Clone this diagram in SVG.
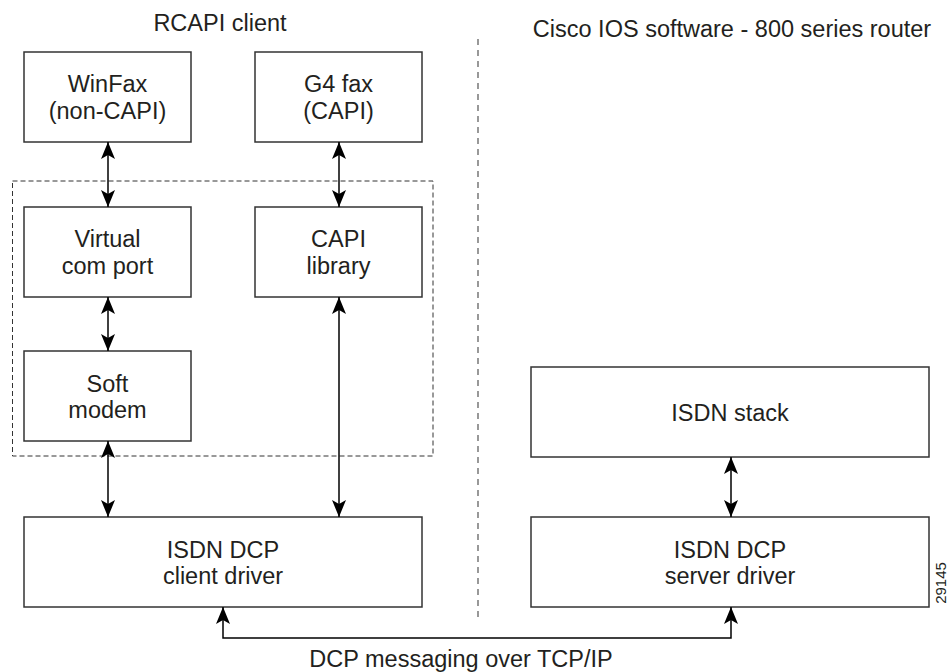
<svg xmlns="http://www.w3.org/2000/svg" width="949" height="672" viewBox="0 0 949 672">
<style>
text{font-family:"Liberation Sans",Arial,Helvetica,sans-serif;font-size:23.5px;fill:#231f20;text-anchor:middle}
.box{fill:#fff;stroke:#333;stroke-width:1.5}
.con{fill:none;stroke:#000;stroke-width:1.5}
.dash{fill:none;stroke:#333;stroke-width:1;stroke-dasharray:5 3}
.div{fill:none;stroke:#555;stroke-width:1.2;stroke-dasharray:6 5}
</style>
<defs>
<marker id="ah" viewBox="0 0 17 14" refX="17" refY="7" markerWidth="17" markerHeight="14" markerUnits="userSpaceOnUse" orient="auto-start-reverse">
<path d="M17,7 L0,0 L4,7 L0,14 Z" fill="#000"/>
</marker>
</defs>
<rect width="949" height="672" fill="#fff"/>
<text x="220" y="31">RCAPI client</text>
<text x="732" y="37">Cisco IOS software - 800 series router</text>
<line class="div" x1="478" y1="39" x2="478" y2="620"/>
<rect class="dash" x="12.5" y="181" width="420.5" height="275"/>
<g id="winfax"><rect class="box" x="24" y="52" width="167" height="90"/><text x="107.5" y="92">WinFax</text><text x="107.5" y="118.5">(non-CAPI)</text></g>
<g id="g4fax"><rect class="box" x="255" y="52" width="167" height="90"/><text x="338.5" y="92">G4 fax</text><text x="338.5" y="118.5">(CAPI)</text></g>
<g id="vcom"><rect class="box" x="24" y="207" width="167" height="90"/><text x="107.5" y="247">Virtual</text><text x="107.5" y="274">com port</text></g>
<g id="capilib"><rect class="box" x="255" y="207" width="167" height="90"/><text x="338.5" y="247">CAPI</text><text x="338.5" y="274">library</text></g>
<g id="softmodem"><rect class="box" x="24" y="351" width="167" height="90"/><text x="107.5" y="391.5">Soft</text><text x="107.5" y="418">modem</text></g>
<g id="client"><rect class="box" x="24" y="517" width="398" height="90"/><text x="223" y="557.5">ISDN DCP</text><text x="223" y="583.5">client driver</text></g>
<g id="stack"><rect class="box" x="531" y="367" width="398" height="90"/><text x="730" y="420.5">ISDN stack</text></g>
<g id="server"><rect class="box" x="531" y="517" width="398" height="90"/><text x="730" y="557.5">ISDN DCP</text><text x="730" y="583.5">server driver</text></g>
<g id="connectors">
<line class="con" x1="108" y1="142" x2="108" y2="207" marker-start="url(#ah)" marker-end="url(#ah)"/>
<line class="con" x1="339" y1="142" x2="339" y2="207" marker-start="url(#ah)" marker-end="url(#ah)"/>
<line class="con" x1="108" y1="297" x2="108" y2="351" marker-start="url(#ah)" marker-end="url(#ah)"/>
<line class="con" x1="108" y1="441" x2="108" y2="517" marker-start="url(#ah)" marker-end="url(#ah)"/>
<line class="con" x1="339" y1="297" x2="339" y2="517" marker-start="url(#ah)" marker-end="url(#ah)"/>
<line class="con" x1="731" y1="457" x2="731" y2="517" marker-start="url(#ah)" marker-end="url(#ah)"/>
<polyline class="con" points="223,607 223,638 731,638 731,607" marker-start="url(#ah)" marker-end="url(#ah)"/>
</g>
<text x="461" y="667">DCP messaging over TCP/IP</text>
<text x="0" y="0" style="font-size:15px" transform="translate(946,583) rotate(-90)">29145</text>
</svg>
